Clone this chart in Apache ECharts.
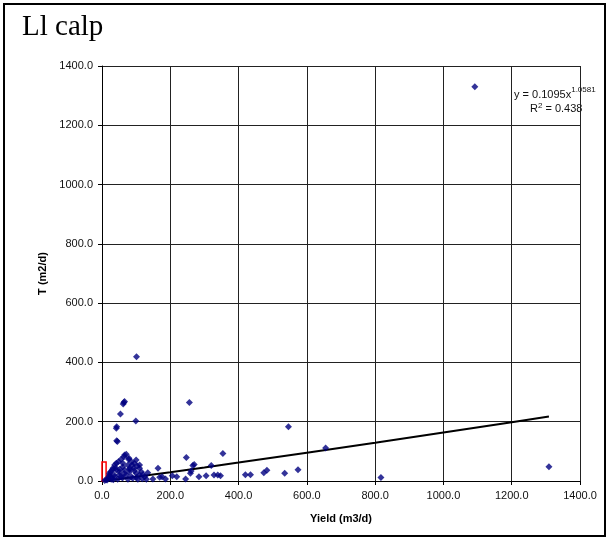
<!DOCTYPE html>
<html>
<head>
<meta charset="utf-8">
<script src="https://cdn.jsdelivr.net/npm/echarts@6/dist/echarts.min.js"></script>
<style>
  html, body { margin: 0; padding: 0; background: #fff; }
  #chart { width: 609px; height: 540px; }
</style>
</head>
<body>
<div id="chart"></div>
<script>
// Yield (m3/d) vs transmissivity T (m2/d) for the Ll calp boreholes
const chartTitle = 'Ll calp';
const xAxisName = 'Yield (m3/d)';
const yAxisName = 'T (m2/d)';

// Axis tick range
const axisMin = 0;
const axisMax = 1400;
const axisStep = 200;

// Observations: [yield, T]
const wellPoints = [
  [1092, 1330], [1309, 48], [817, 12], [655, 111], [546, 183], [535, 26],
  [574, 38], [483, 36], [474, 28], [435, 21], [420, 21], [354, 93],
  [347, 18], [339, 20], [328, 20], [320, 52], [305, 18], [284, 14],
  [270, 56], [266, 52], [261, 34], [259, 26], [256, 265], [247, 79],
  [245, 7], [219, 14], [206, 18], [186, 7], [176, 14], [169, 13],
  [164, 43], [149, 7], [134, 28],
  [101, 419], [64, 265], [62, 260], [66, 268], [54, 226], [43, 183],
  [42, 178], [99, 202], [43, 136], [45, 133],
  [71, 90], [64, 82], [66, 88], [56, 73], [48, 65], [78, 73], [79, 77],
  [86, 65], [95, 60], [100, 71], [103, 51], [110, 54], [76, 54], [88, 54],
  [61, 60], [42, 60], [37, 54], [32, 43], [25, 31], [22, 20], [19, 9],
  [42, 37], [51, 31], [66, 37], [81, 39], [93, 43], [110, 43], [115, 31],
  [100, 26], [71, 20], [56, 14], [37, 14], [86, 14], [125, 14], [130, 6],
  [105, 6], [76, 6], [46, 6], [27, 6], [15, 3], [30, 37], [22, 26],
  [61, 48], [81, 43], [110, 20], [118, 8], [90, 9], [60, 10], [35, 20],
  [28, 12], [50, 20], [65, 25], [80, 30], [95, 35], [40, 45], [52, 40],
  [20, 15], [12, 4], [8, 2], [33, 4], [100, 12], [120, 22]
];

// Power trend y = a * x^b, as printed on the chart
const trendA = 0.1095;
const trendB = 1.0581;
const trendR2 = 0.438;
const trendX = [8, 25, 50, 100, 200, 300, 400, 600, 800, 1000, 1200, 1309];
const trendLine = trendX.map(x => [x, trendA * Math.pow(x, trendB)]);

// Highlighted region near the origin: [x0, y0, x1, y1]
const boxRegion = [0, 0, 12, 64];

const fmt = v => Number(v).toFixed(1);
const axisFont = { fontFamily: 'Liberation Sans', fontSize: 11, color: '#111' };
const nameFont = { fontFamily: 'Liberation Sans', fontSize: 11, fontWeight: 'bold', color: '#000' };

const chart = echarts.init(document.getElementById('chart'), null, { renderer: 'canvas' });

function valueAxis(name, gap, rotate) {
  return {
    type: 'value',
    min: axisMin,
    max: axisMax,
    interval: axisStep,
    name: name,
    nameLocation: 'middle',
    nameGap: gap,
    nameRotate: rotate,
    nameTextStyle: nameFont,
    axisLine: { show: true, lineStyle: { color: '#000', width: 1 } },
    axisTick: { show: true, inside: false, length: 4, lineStyle: { color: '#000' } },
    axisLabel: Object.assign({ formatter: fmt, margin: 9 }, axisFont),
    splitLine: { show: true, lineStyle: { color: '#222', width: 1 } }
  };
}

const xAxis = valueAxis(xAxisName, 32, 0);
const yAxis = valueAxis(yAxisName, 52, 90);

chart.setOption({
  animation: false,
  backgroundColor: '#fff',
  title: {
    text: chartTitle,
    left: 17,
    top: 8,
    textStyle: { fontFamily: 'Liberation Serif', fontSize: 29, fontWeight: 'normal', color: '#000' }
  },
  grid: { left: 102, top: 66, width: 478, height: 415, containLabel: false },
  xAxis: xAxis,
  yAxis: yAxis,
  series: [
    {
      name: 'Trend',
      type: 'line',
      data: trendLine,
      showSymbol: false,
      smooth: false,
      lineStyle: { color: '#000', width: 2 },
      z: 3
    },
    {
      name: 'Wells',
      type: 'scatter',
      data: wellPoints,
      symbol: 'diamond',
      symbolSize: 7,
      itemStyle: { color: '#000080' },
      z: 4,
      markArea: {
        silent: true,
        itemStyle: { color: 'rgba(0,0,0,0)', borderColor: '#ff0000', borderWidth: 1.5 },
        data: [[{ coord: [boxRegion[0], boxRegion[1]] }, { coord: [boxRegion[2], boxRegion[3]] }]]
      }
    }
  ],
  graphic: [
    {
      type: 'rect',
      shape: { x: 4, y: 4, width: 601, height: 532 },
      style: { fill: 'none', stroke: '#000', lineWidth: 2 },
      silent: true,
      z: 100
    },
    {
      type: 'group',
      left: 513,
      top: 80,
      z: 50,
      children: [
        { type: 'rect', shape: { x: 0, y: 0, width: 90, height: 36 }, style: { fill: '#fff' } },
        {
          type: 'text',
          x: 1, y: 6,
          style: {
            text: '{b|y = ' + trendA + 'x}{s|' + trendB + '}',
            rich: {
              b: { fontFamily: 'Liberation Sans', fontSize: 11, fill: '#111', verticalAlign: 'bottom' },
              s: { fontFamily: 'Liberation Sans', fontSize: 8, fill: '#111', verticalAlign: 'top', padding: [0, 0, 6, 0] }
            }
          }
        },
        {
          type: 'text',
          x: 17, y: 22,
          style: {
            text: '{b|R}{s|2}{b| = ' + trendR2 + '}',
            rich: {
              b: { fontFamily: 'Liberation Sans', fontSize: 11, fill: '#111' },
              s: { fontFamily: 'Liberation Sans', fontSize: 8, fill: '#111', padding: [0, 0, 6, 0] }
            }
          }
        }
      ]
    }
  ]
});
</script>
</body>
</html>
